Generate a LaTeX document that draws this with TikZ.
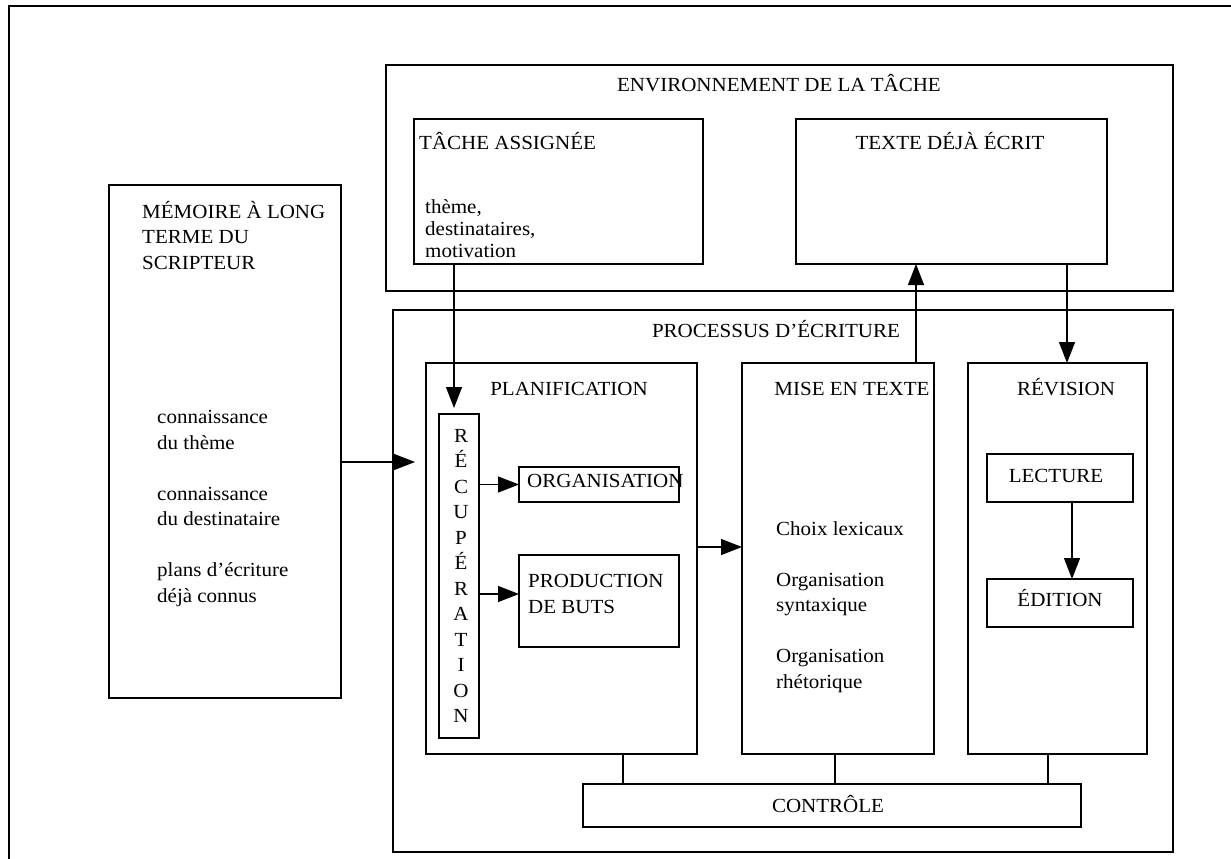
\documentclass[tikz,border=0pt]{standalone}
\usepackage{fontspec}
\setmainfont{Liberation Serif}[FakeStretch=1.05]
\usetikzlibrary{arrows.meta}
\begin{document}
\begin{tikzpicture}[x=1pt,y=-1pt,
  box/.style={draw, line width=1.3pt, inner sep=0pt, outer sep=0pt, anchor=north west},
  arr/.style={line width=1.3pt, -{Triangle[length=21pt,width=16pt]}},
  link/.style={line width=1.3pt},
  txt/.style={inner sep=0pt, font=\fontsize{20}{25.5}\selectfont},
  frame/.style={line width=2pt}]
\useasboundingbox (0,0) rectangle (1231,859);
% outer frame (cropped)
\draw[frame] (1231,6.5) -- (9,6.5) -- (9,859);
% boxes
\node[box, minimum width=787, minimum height=226] (env) at (386,65) {};
\node[box, minimum width=289, minimum height=145] (tache) at (414,119) {};
\node[box, minimum width=311, minimum height=145] (texte) at (796,119) {};
\node[box, minimum width=232, minimum height=513] (mem) at (109,185) {};
\node[box, minimum width=780, minimum height=542] (proc) at (393,310) {};
\node[box, minimum width=271, minimum height=391] (plan) at (426,363) {};
\node[box, minimum width=40, minimum height=324] (recup) at (439,414) {};
\node[box, minimum width=160, minimum height=35] (orga) at (519,467) {};
\node[box, minimum width=160, minimum height=92] (prod) at (519,555) {};
\node[box, minimum width=192, minimum height=391] (mise) at (742,363) {};
\node[box, minimum width=179, minimum height=391] (revi) at (968,363) {};
\node[box, minimum width=146, minimum height=48] (lect) at (987,454) {};
\node[box, minimum width=146, minimum height=48] (edit) at (987,579) {};
\node[box, minimum width=498, minimum height=43] (ctrl) at (583,784) {};
% texts
\node[txt, anchor=base] (tenv) at (779,92) {ENVIRONNEMENT DE LA TÂCHE};
\node[txt, anchor=base west] (ttache) at (419,149) {TÂCHE ASSIGNÉE};
\node[txt, anchor=base west, align=left, font=\fontsize{20}{22}\selectfont] (ltache) at (425,257) {thème,\\destinataires,\\motivation};
\node[txt, anchor=base] (ttexte) at (950,149) {TEXTE DÉJÀ ÉCRIT};
\node[txt, anchor=base west, align=left] (tmem) at (142,269) {MÉMOIRE À LONG\\TERME DU\\SCRIPTEUR};
\node[txt, anchor=base west, align=left] (lmem) at (157,602) {connaissance\\du thème\\[25.5pt]connaissance\\du destinataire\\[25.5pt]plans d’écriture\\déjà connus};
\node[txt, anchor=base] (tproc) at (776,337) {PROCESSUS D’ÉCRITURE};
\node[txt, anchor=base] (tplan) at (569,395) {PLANIFICATION};
\node[txt, anchor=center, align=center] (trecup) at (461,576) {R\\É\\C\\U\\P\\É\\R\\A\\T\\I\\O\\N};
\node[txt, anchor=base west] (torga) at (527,487) {ORGANISATION};
\node[txt, anchor=base west, align=left] (tprod) at (528,613) {PRODUCTION\\DE BUTS};
\node[txt, anchor=base] (tmise) at (852,395) {MISE EN TEXTE};
\node[txt, anchor=base west, align=left] (lmise) at (776,688) {Choix lexicaux\\[25.5pt]Organisation\\syntaxique\\[25.5pt]Organisation\\rhétorique};
\node[txt, anchor=base] (trevi) at (1066,395) {RÉVISION};
\node[txt, anchor=base] (tlect) at (1056,482) {LECTURE};
\node[txt, anchor=base] (tedit) at (1060,606) {ÉDITION};
\node[txt, anchor=base] (tctrl) at (828,812) {CONTRÔLE};
% helper coordinates
\coordinate (c1) at (454,408);
\coordinate (c2) at (415,462);
\coordinate (c3) at (519,594);
\coordinate (c4) at (742,547);
\coordinate (c5) at (916,0);
\coordinate (c6) at (1067,0);
\coordinate (c7) at (1072,0);
\coordinate (c8) at (623,0);
\coordinate (c9) at (835,0);
\coordinate (c10) at (1048,0);
% connectors
\draw[arr] (tache.south -| c1) -- (c1);
\draw[arr] (mem.east |- c2) -- (c2);
\draw[arr] (recup.east |- orga.west) -- (orga.west);
\draw[arr] (recup.east |- c3) -- (c3);
\draw[arr] (plan.east |- c4) -- (c4);
\draw[arr] (mise.north -| c5) -- (texte.south -| c5);
\draw[arr] (texte.south -| c6) -- (revi.north -| c6);
\draw[arr] (lect.south -| c7) -- (edit.north -| c7);
\draw[link] (plan.south -| c8) -- (ctrl.north -| c8);
\draw[link] (mise.south -| c9) -- (ctrl.north -| c9);
\draw[link] (revi.south -| c10) -- (ctrl.north -| c10);
\end{tikzpicture}
\end{document}
